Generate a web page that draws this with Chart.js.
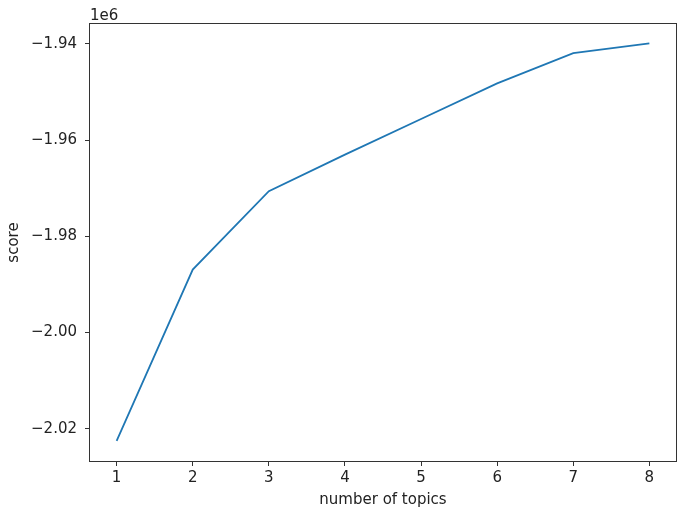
<!DOCTYPE html>
<html lang="en">
  <head>
    <meta charset="utf-8" />
    <title>score vs number of topics</title>
    <script src="https://cdn.jsdelivr.net/npm/chart.js@4.4.1/dist/chart.umd.min.js"></script>
    <style type="text/css">
      body {
        margin: 0;
        background-color: #ffffff;
      }
      #wrap {
        width: 685px;
        height: 516px;
        position: relative;
      }
    </style>
  </head>
  <body>
    <div id="wrap">
      <canvas id="scoreChart"></canvas>
    </div>

    <script>
      // data
      var topics = [1, 2, 3, 4, 5, 6, 7, 8];
      var scores = [-2022500, -1986900, -1970600, -1963000, -1955600, -1948200, -1941900, -1939900];
      var yTicks = [-2020000, -2000000, -1980000, -1960000, -1940000];

      var font = { family: "'DejaVu Sans', sans-serif", size: 15 };

      // matplotlib style box round the axes plus the "1e6" offset text
      var framePlugin = {
        id: 'frame',
        afterDraw: function (chart) {
          var ctx = chart.ctx;
          var a = chart.chartArea;
          ctx.save();
          ctx.strokeStyle = '#333';
          ctx.lineWidth = 1;
          ctx.strokeRect(Math.round(a.left) - 0.5, Math.round(a.top) - 0.5,
                         Math.round(a.right - a.left) + 1, Math.round(a.bottom - a.top) + 1);
          ctx.fillStyle = '#222';
          ctx.font = "15px 'DejaVu Sans', sans-serif";
          ctx.textBaseline = 'alphabetic';
          ctx.textAlign = 'left';
          ctx.fillText('1e6', a.left, 19.5);
          ctx.restore();
        }
      };

      new Chart(document.getElementById('scoreChart').getContext('2d'), {
        type: 'line',
        data: {
          datasets: [{
            data: topics.map(function (t, i) { return { x: t, y: scores[i] }; }),
            borderColor: '#1f77b4',
            borderWidth: 1.8,
            pointRadius: 0,
            tension: 0,
            fill: false
          }]
        },
        options: {
          responsive: true,
          maintainAspectRatio: false,
          animation: false,
          layout: { padding: { top: 24, right: 9, left: 0, bottom: 0 } },
          plugins: {
            legend: { display: false },
            tooltip: { enabled: false }
          },
          scales: {
            x: {
              type: 'linear',
              min: 0.65,
              max: 8.35,
              afterFit: function (scale) { scale.height = 55; },
              afterBuildTicks: function (scale) {
                scale.ticks = topics.map(function (v) { return { value: v }; });
              },
              grid: { drawOnChartArea: false, drawTicks: true, tickLength: 5, color: '#333' },
              border: { display: false },
              ticks: { color: '#222', font: font, padding: 3, maxRotation: 0 },
              title: { display: true, text: 'number of topics', color: '#222', font: font, padding: { top: 0, bottom: 7 } }
            },
            y: {
              min: -2026700,
              max: -1935850,
              afterFit: function (scale) { scale.width = 90; },
              afterBuildTicks: function (scale) {
                scale.ticks = yTicks.map(function (v) { return { value: v }; });
              },
              grid: { drawOnChartArea: false, drawTicks: true, tickLength: 5, color: '#333' },
              border: { display: false },
              ticks: {
                color: '#222',
                font: font,
                padding: 8,
                callback: function (v) { return (v / 1e6).toFixed(2).replace('-', '\u2212'); }
              },
              title: { display: true, text: 'score', color: '#222', font: font, padding: { top: 5, bottom: 0 } }
            }
          }
        },
        plugins: [framePlugin]
      });
    </script>
  </body>
</html>
